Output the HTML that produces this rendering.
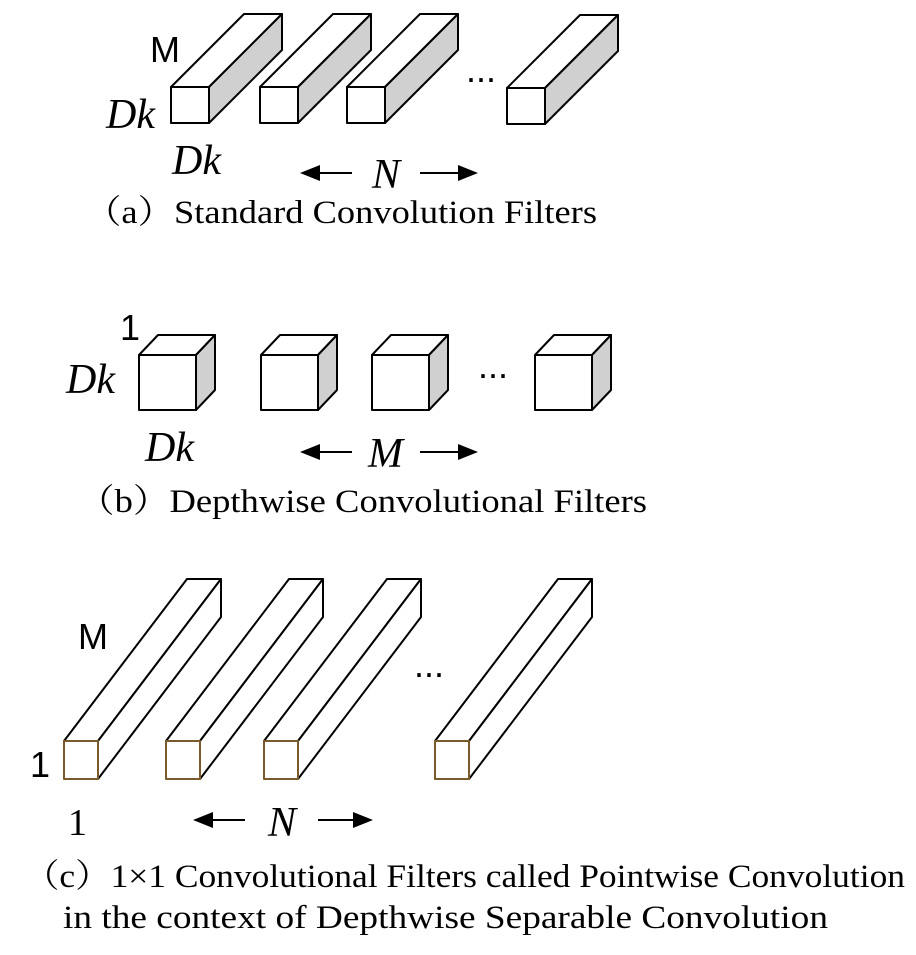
<!DOCTYPE html>
<html><head><meta charset="utf-8"><style>
html,body{margin:0;padding:0;background:#fff;}
svg{display:block;}
.cap{font-family:"Liberation Serif","Noto Serif CJK SC",serif;font-size:33px;fill:#000;}
.it{font-family:"Liberation Serif",serif;font-style:italic;font-size:42px;fill:#000;}
.sn{font-family:"Liberation Sans",sans-serif;font-size:36px;fill:#000;}
.rm{font-family:"Liberation Serif",serif;font-size:38px;fill:#000;}
</style></head><body>
<svg width="916" height="955" viewBox="0 0 916 955" xmlns="http://www.w3.org/2000/svg">
<defs>
<g id="ba" stroke="#000" stroke-width="2" stroke-linejoin="round">
<polygon points="0,0 73,-73 111,-73 38,0" fill="#fff"/>
<polygon points="38,0 111,-73 111,-37 38,36" fill="#d0d0d0"/>
<rect x="0" y="0" width="38" height="36" fill="#fff"/>
</g>
<g id="bb" stroke="#000" stroke-width="2" stroke-linejoin="round">
<polygon points="0,0 19,-20 76,-20 57,0" fill="#fff"/>
<polygon points="57,0 76,-20 76,35 57,55" fill="#d0d0d0"/>
<rect x="0" y="0" width="57" height="55" fill="#fff"/>
</g>
<g id="bc" stroke-width="2" stroke-linejoin="round">
<polygon points="0,0 123,-162 157,-162 34,0" fill="#fff" stroke="#000"/>
<polygon points="34,0 157,-162 157,-124 34,38" fill="#fff" stroke="#000"/>
<rect x="0" y="0" width="34" height="38" fill="#fff" stroke="#7a5a2a"/>
</g>
</defs>
<!-- (a) -->
<use href="#ba" x="171" y="87"/>
<use href="#ba" x="260" y="87"/>
<use href="#ba" x="347" y="87"/>
<use href="#ba" x="507" y="88"/>
<text x="150" y="62" class="sn">M</text>
<text x="106" y="128" class="it">Dk</text>
<text x="172" y="174" class="it">Dk</text>
<text x="466" y="82" class="sn" font-size="30">...</text>
<line x1="318" y1="173" x2="352" y2="173" stroke="#000" stroke-width="2"/>
<polygon points="300,173 320,165 320,181"/>
<line x1="420" y1="173" x2="460" y2="173" stroke="#000" stroke-width="2"/>
<polygon points="478,173 458,165 458,181"/>
<text x="372" y="188" class="it">N</text>
<text x="85" y="223" class="cap" textLength="512" lengthAdjust="spacingAndGlyphs">（a）Standard Convolution Filters</text>
<!-- (b) -->
<use href="#bb" x="139" y="355"/>
<use href="#bb" x="261" y="355"/>
<use href="#bb" x="372" y="355"/>
<use href="#bb" x="535" y="355"/>
<text x="120" y="340" class="sn">1</text>
<text x="66" y="393" class="it">Dk</text>
<text x="145" y="461" class="it">Dk</text>
<text x="478" y="378" class="sn" font-size="30">...</text>
<line x1="318" y1="452" x2="352" y2="452" stroke="#000" stroke-width="2"/>
<polygon points="300,452 320,444 320,460"/>
<line x1="420" y1="452" x2="460" y2="452" stroke="#000" stroke-width="2"/>
<polygon points="478,452 458,444 458,460"/>
<text x="368" y="467" class="it">M</text>
<text x="78" y="512" class="cap" textLength="569" lengthAdjust="spacingAndGlyphs">（b）Depthwise Convolutional Filters</text>
<!-- (c) -->
<use href="#bc" x="64" y="741"/>
<use href="#bc" x="166" y="741"/>
<use href="#bc" x="264" y="741"/>
<use href="#bc" x="435" y="741"/>
<text x="78" y="649" class="sn">M</text>
<text x="30" y="777" class="sn">1</text>
<text x="68" y="835" class="rm">1</text>
<text x="414" y="677" class="sn" font-size="30">...</text>
<line x1="212" y1="820" x2="245" y2="820" stroke="#000" stroke-width="2"/>
<polygon points="193,820 213,812 213,828"/>
<line x1="318" y1="820" x2="355" y2="820" stroke="#000" stroke-width="2"/>
<polygon points="373,820 353,812 353,828"/>
<text x="268" y="836" class="it">N</text>
<text x="24" y="887" class="cap" textLength="881" lengthAdjust="spacingAndGlyphs">（c）1×1 Convolutional Filters called Pointwise Convolution</text>
<text x="63" y="928" class="cap" textLength="765" lengthAdjust="spacingAndGlyphs">in the context of Depthwise Separable Convolution</text>
</svg>
</body></html>
